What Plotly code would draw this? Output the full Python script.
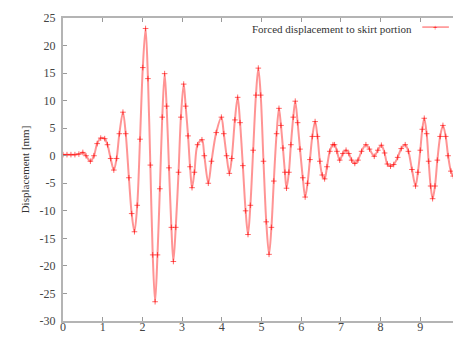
import plotly.graph_objects as go

# Time [s] and displacement [mm]
time_s = [0.00, 0.10, 0.20, 0.30, 0.40, 0.50, 0.58, 0.69, 0.78, 0.86, 0.95, 1.05, 1.12, 1.20, 1.28,
          1.35, 1.42, 1.51, 1.58, 1.66, 1.73, 1.80, 1.87, 1.94, 2.01, 2.08, 2.14, 2.20, 2.26, 2.32,
          2.38, 2.44, 2.50, 2.56, 2.61, 2.67, 2.73, 2.78, 2.84, 2.91, 2.97, 3.04, 3.09, 3.15, 3.20,
          3.25, 3.31, 3.39, 3.50, 3.56, 3.66, 3.74, 3.86, 3.99, 4.05, 4.12, 4.19, 4.25, 4.33, 4.40,
          4.46, 4.53, 4.60, 4.66, 4.72, 4.79, 4.86, 4.92, 4.98, 5.05, 5.12, 5.19, 5.25, 5.31, 5.38,
          5.44, 5.49, 5.54, 5.59, 5.63, 5.69, 5.74, 5.80, 5.85, 5.91, 5.97, 6.04, 6.10, 6.16, 6.22,
          6.28, 6.35, 6.41, 6.47, 6.53, 6.59, 6.65, 6.72, 6.80, 6.84, 6.90, 6.97, 7.05, 7.13, 7.20,
          7.27, 7.35, 7.43, 7.52, 7.63, 7.72, 7.84, 7.93, 8.02, 8.10, 8.17, 8.25, 8.33, 8.43, 8.52,
          8.62, 8.70, 8.79, 8.88, 8.94, 9.00, 9.05, 9.10, 9.16, 9.21, 9.26, 9.31, 9.37, 9.43, 9.50,
          9.57, 9.64, 9.70, 9.77, 9.83, 9.90, 9.95, 10.00]
displacement_mm = [0.2, 0.2, 0.2, 0.2, 0.3, 0.6, 0.0, -1.0, 0.0, 2.2, 3.2, 3.1, 2.0, -0.5, -2.6,
                   -0.5, 4.0, 7.9, 4.0, -4.0, -10.5, -13.8, -9.0, 3.0, 16.0, 23.1, 14.0, -1.7, -18.0, -26.5,
                   -18.0, -6.0, 7.0, 14.9, 9.0, -2.2, -13.0, -19.2, -13.0, -3.0, 7.0, 13.0, 9.0, 3.6, -2.0,
                   -5.8, -3.0, 2.0, 2.9, 0.0, -5.0, -1.0, 4.2, 7.0, 4.0, 0.0, -3.2, -0.5, 6.5, 10.6,
                   6.0, -1.8, -10.0, -14.3, -9.0, 1.0, 11.0, 15.9, 11.0, -1.0, -12.0, -17.9, -13.0, -4.6, 4.0,
                   8.6, 5.5, 1.4, -3.0, -5.9, -3.0, 2.0, 7.0, 9.9, 6.0, 1.2, -4.0, -7.5, -5.0, -0.7,
                   3.5, 6.2, 3.5, -1.0, -3.5, -4.2, -2.0, 0.8, 2.0, 2.0, 0.8, -0.8, 0.4, 1.0, 0.4,
                   -0.8, -1.4, -0.8, 0.8, 2.0, 1.2, -0.1, 1.0, 1.9, 0.5, -1.5, -1.9, -1.6, -0.3, 1.3,
                   2.0, 0.8, -2.5, -5.5, -3.0, 1.0, 4.8, 6.8, 4.0, -1.0, -5.5, -7.8, -5.5, -0.8, 3.5,
                   5.5, 3.5, 0.0, -2.8, -3.7, -1.5, 1.0, 2.9]

x_ticks = [0, 1, 2, 3, 4, 5, 6, 7, 8, 9, 10]
y_ticks = [-30, -25, -20, -15, -10, -5, 0, 5, 10, 15, 20, 25]
series_name = "Forced displacement to skirt portion"

SERIF = "Liberation Serif, Times New Roman, serif"
RED = "#ff0000"

fig = go.Figure()
fig.add_trace(go.Scatter(
    x=time_s, y=displacement_mm, mode="lines+markers", name=series_name,
    line=dict(color="rgba(255,60,60,0.55)", width=2, shape="spline", smoothing=0.9),
    marker=dict(symbol="cross-thin", size=4, line=dict(color="rgba(255,0,0,0.6)", width=1)),
    showlegend=False,
))

axis_common = dict(
    showgrid=False, zeroline=False, ticks="inside", ticklen=4, tickwidth=1,
    tickcolor="#9a9a9a", showline=True, linecolor="#b4b4b4", linewidth=2, mirror="allticks",
    tickfont=dict(family=SERIF, size=12, color="#444444"),
)

fig.update_xaxes(range=[0, 10], tickvals=x_ticks, ticktext=[str(v) for v in x_ticks],
                 ticklabeloverflow="allow", ticklabelstandoff=-6, **axis_common)
fig.update_yaxes(range=[-30, 25], tickvals=y_ticks, ticktext=[str(v) for v in y_ticks],
                 ticklabelstandoff=3,
                 title=dict(text="Displacement [mm]", font=dict(family=SERIF, size=11, color="#333333"),
                            standoff=8),
                 **axis_common)

# gnuplot-style key: text first, then line sample with a point
fig.add_annotation(xref="paper", yref="paper", x=0.885, y=0.965, xanchor="right", yanchor="middle",
                   text=series_name, showarrow=False,
                   font=dict(family=SERIF, size=11, color="#333333"))
fig.add_shape(type="line", xref="paper", yref="paper", x0=0.905, x1=0.972, y0=0.97, y1=0.97,
              line=dict(color="rgba(255,60,60,0.6)", width=1.5))
fig.add_annotation(xref="paper", yref="paper", x=0.9385, y=0.97, xanchor="center", yanchor="middle",
                   text="+", showarrow=False, font=dict(family=SERIF, size=8, color=RED))

fig.update_layout(
    width=461, height=338,
    margin=dict(l=55, r=3, t=10, b=25),
    paper_bgcolor="white", plot_bgcolor="white",
)

fig.write_html("out.html")
